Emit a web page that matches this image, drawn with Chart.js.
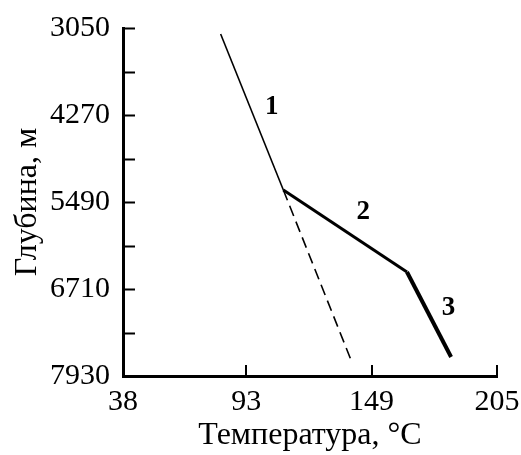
<!DOCTYPE html>
<html lang="ru">
<head>
<meta charset="UTF-8">
<title>Глубина и температура</title>
<script src="https://cdn.jsdelivr.net/npm/chart.js"></script>
<style>
  html, body { margin: 0; padding: 0; background: #fff; }
  .chart-box { width: 521px; height: 455px; }
</style>
</head>
<body>
<div class="chart-box"><canvas id="chart"></canvas></div>
<script>
  const tempTicks = [38, 93, 149, 205];
  const depthTicks = [3050, 3660, 4270, 4880, 5490, 6100, 6710, 7320, 7930];
  const depthLabels = ['3050', '', '4270', '', '5490', '', '6710', '', '7930'];

  // участки профиля
  const line1Temp = [81.6, 109.6];
  const line1Depth = [3134, 5322];
  const dashTemp = [109.6, 140.4];
  const dashDepth = [5322, 7752];
  const line2Temp = [109.6, 164.8];
  const line2Depth = [5322, 6472];
  const line3Temp = [164.8, 184.5];
  const line3Depth = [6472, 7664];

  // подписи участков
  const curveNames = ['1', '2', '3'];
  const nameTemp = [104.4, 145.3, 183.3];
  const nameDepth = [4154, 5626, 6981];

  const serif = "'Liberation Serif', 'DejaVu Serif', serif";

  function pts(xs, ys) {
    return xs.map((v, i) => ({ x: v, y: ys[i] }));
  }

  const drawExtras = {
    id: 'drawExtras',
    afterDraw(chart) {
      const { ctx, chartArea, scales: { x, y } } = chart;
      ctx.save();
      ctx.strokeStyle = '#000';
      ctx.lineWidth = 2;
      ctx.beginPath();
      depthTicks.forEach(v => {
        const py = Math.round(y.getPixelForValue(v)) + 0.5;
        ctx.moveTo(chartArea.left, py);
        ctx.lineTo(chartArea.left + 12, py);
      });
      tempTicks.slice(1).forEach(v => {
        const px = Math.round(x.getPixelForValue(v));
        ctx.moveTo(px, chartArea.bottom);
        ctx.lineTo(px, chartArea.bottom - 11);
      });
      ctx.stroke();

      ctx.fillStyle = '#000';
      ctx.font = 'bold 27px ' + serif;
      ctx.textAlign = 'center';
      ctx.textBaseline = 'middle';
      curveNames.forEach((n, i) => {
        ctx.fillText(n, x.getPixelForValue(nameTemp[i]), y.getPixelForValue(nameDepth[i]));
      });
      ctx.restore();
    }
  };

  new Chart(document.getElementById('chart'), {
    type: 'scatter',
    data: {
      datasets: [
        { data: pts(line1Temp, line1Depth), borderWidth: 1.6 },
        { data: pts(dashTemp, dashDepth), borderWidth: 1.6, borderDash: [11, 6] },
        { data: pts(line2Temp, line2Depth), borderWidth: 3 },
        { data: pts(line3Temp, line3Depth), borderWidth: 4 }
      ].map(d => Object.assign({
        showLine: true,
        borderColor: '#000',
        pointRadius: 0,
        pointHoverRadius: 0
      }, d))
    },
    options: {
      responsive: true,
      maintainAspectRatio: false,
      animation: false,
      layout: { padding: { top: 28, right: 24, bottom: 0, left: 0 } },
      plugins: {
        legend: { display: false },
        tooltip: { enabled: false }
      },
      scales: {
        x: {
          type: 'linear',
          min: 38,
          max: 205,
          afterBuildTicks: s => { s.ticks = tempTicks.map(v => ({ value: v })); },
          afterFit: s => { s.height = 79; },
          grid: { display: false },
          border: { display: true, color: '#000', width: 3 },
          ticks: {
            color: '#000',
            padding: 0,
            maxRotation: 0,
            font: { family: serif, size: 30 }
          },
          title: {
            display: true,
            text: 'Температура, °C',
            color: '#000',
            padding: { top: 0, bottom: 0 },
            font: { family: serif, size: 32 }
          }
        },
        y: {
          type: 'linear',
          reverse: true,
          min: 3050,
          max: 7930,
          afterBuildTicks: s => { s.ticks = depthTicks.map(v => ({ value: v })); },
          afterFit: s => { s.width = 123; },
          grid: { display: false },
          border: { display: true, color: '#000', width: 3 },
          ticks: {
            color: '#000',
            padding: 5,
            autoSkip: false,
            callback: (v, i) => depthLabels[i],
            font: { family: serif, size: 30 }
          },
          title: {
            display: true,
            text: 'Глубина, м',
            color: '#000',
            padding: { top: 8, bottom: 0 },
            font: { family: serif, size: 32 }
          }
        }
      }
    },
    plugins: [drawExtras]
  });
</script>
</body>
</html>
